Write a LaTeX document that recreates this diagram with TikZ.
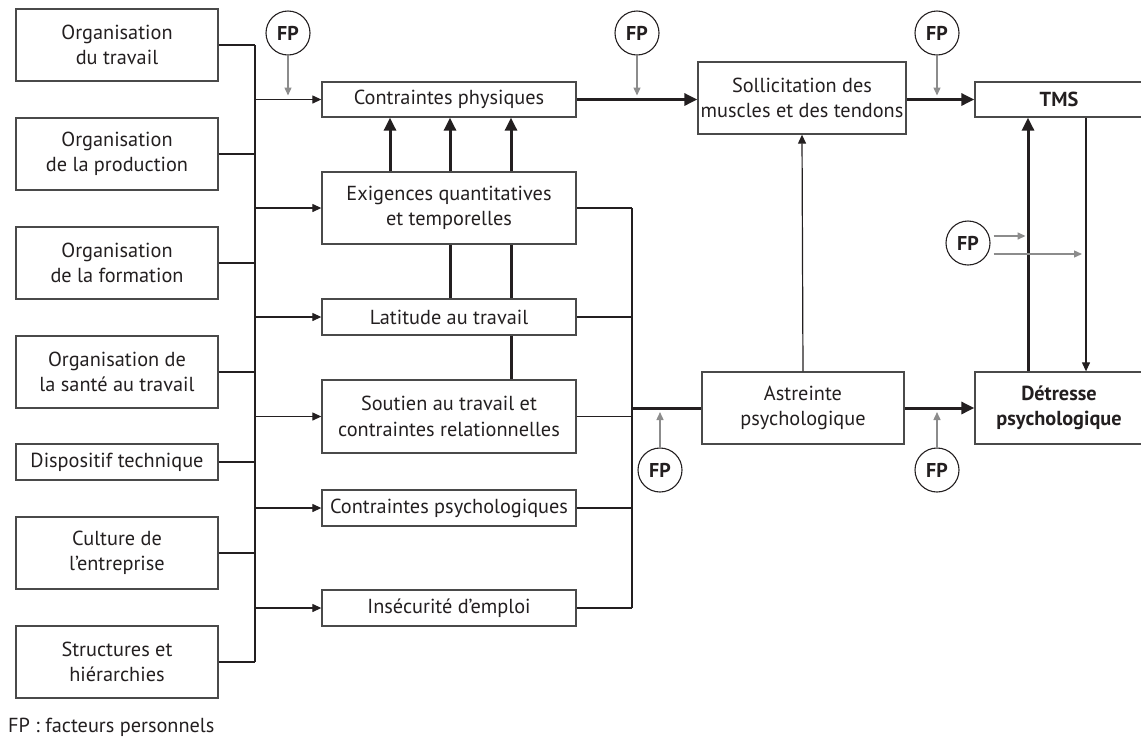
\documentclass[tikz,border=0pt]{standalone}
\usepackage{fontspec}
\setmainfont{PT Sans}
\usetikzlibrary{arrows.meta,calc}
\definecolor{ink}{HTML}{231F20}
\definecolor{boxline}{HTML}{4A4A4A}
\definecolor{fpgray}{HTML}{8C8C8C}
\tikzset{
  box/.style={draw=boxline,line width=1.3pt,rectangle,align=center,text=ink,font=\fontsize{20.3}{25.5}\selectfont,inner sep=0pt},
  fp/.style={draw=ink,line width=1.1pt,circle,minimum size=44pt,inner sep=0pt,text=ink,font=\fontsize{20}{22}\selectfont\bfseries},
  conn/.style={draw=ink,line width=1.2pt},
  arr/.style={conn,-{Triangle[length=9pt,width=8pt]}},
  thick/.style={draw=ink,line width=3pt},
  thickarr/.style={thick,-{Triangle[length=13pt,width=12pt]}},
  fparr/.style={draw=fpgray,line width=1.4pt,-{Triangle[length=8pt,width=7pt]}}
}
\begin{document}
\begin{tikzpicture}[x=1pt,y=-1pt]
\useasboundingbox (0,0) rectangle (1141,740);
% left boxes
\node[box,minimum width=202pt,minimum height=72pt] (o1) at (117,45) {Organisation\\du travail};
\node[box,minimum width=202pt,minimum height=72pt] (o2) at (117,154) {Organisation\\de la production};
\node[box,minimum width=202pt,minimum height=72pt] (o3) at (117,263) {Organisation\\de la formation};
\node[box,minimum width=202pt,minimum height=72pt] (o4) at (117,372) {Organisation de\\la santé au travail};
\node[box,minimum width=202pt,minimum height=36pt] (o5) at (117,462) {Dispositif technique};
\node[box,minimum width=202pt,minimum height=72pt] (o6) at (117,553) {Culture de\\l’entreprise};
\node[box,minimum width=202pt,minimum height=72pt] (o7) at (117,662) {Structures et\\hiérarchies};
% middle boxes
\node[box,minimum width=254pt,minimum height=35pt] (cp) at (449,99.5) {Contraintes physiques};
\node[box,minimum width=254pt,minimum height=72pt] (ex) at (449,208) {Exigences quantitatives\\et temporelles};
\node[box,minimum width=254pt,minimum height=36pt] (la) at (449,317) {Latitude au travail};
\node[box,minimum width=254pt,minimum height=73pt] (so) at (449,416.5) {Soutien au travail et\\contraintes relationnelles};
\node[box,minimum width=254pt,minimum height=36pt] (cps) at (449,508) {Contraintes psychologiques};
\node[box,minimum width=254pt,minimum height=36pt] (ins) at (449,608) {Insécurité d’emploi};
% right boxes
\node[box,minimum width=208pt,minimum height=72pt] (sol) at (802,98) {Sollicitation des\\muscles et des tendons};
\node[box,minimum width=168pt,minimum height=35pt] (tms) at (1059,99.5) {\bfseries TMS};
\node[box,minimum width=202pt,minimum height=72pt] (ast) at (803,408) {Astreinte\\psychologique};
\node[box,minimum width=168pt,minimum height=72pt] (det) at (1059,408) {\bfseries Détresse\\\bfseries psychologique};
% FP circles
\node[fp] (fp1) at (288,33) {FP};
\node[fp] (fp2) at (637,33) {FP};
\node[fp] (fp3) at (937,33) {FP};
\node[fp] (fp4) at (968,243) {FP};
\node[fp] (fp5) at (660,470) {FP};
\node[fp] (fp6) at (937,470) {FP};
% bus coordinates
\coordinate (bl) at (255,0);
\coordinate (br) at (632,0);
\coordinate (c1) at (390,0);
\coordinate (c2) at (450,0);
\coordinate (c3) at (511,0);
\coordinate (c4) at (1028,0);
\coordinate (c5) at (1086,0);
% left bus
\foreach \n in {o1,o2,o3,o4,o5,o6,o7} \draw[conn] (\n.east) -- (\n.east -| bl);
\draw[conn] (o1.east -| bl) -- (o7.east -| bl);
\foreach \n in {cp,ex,la,so,cps,ins} \draw[arr] (\n.west -| bl) -- (\n.west);
% right bus
\foreach \n in {ex,la,so,cps,ins} \draw[conn] (\n.east) -- (\n.east -| br);
\draw[conn] (ex.east -| br) -- (ins.east -| br);
\draw[thick] (ast.west -| br) -- (ast.west);
% vertical links between middle boxes
\foreach \c in {c1,c2,c3} \draw[thickarr] (ex.north -| \c) -- (cp.south -| \c);
\foreach \c in {c2,c3} \draw[thick] (la.north -| \c) -- (ex.south -| \c);
\draw[thick] (so.north -| c3) -- (la.south -| c3);
% main chain
\draw[thickarr] (cp.east) -- (cp.east -| sol.west);
\draw[thickarr] (sol.east |- tms.west) -- (tms.west);
\draw[arr] (ast.north) -- (sol.south);
\draw[thickarr] (ast.east) -- (det.west);
\draw[thickarr] (det.north -| c4) -- (tms.south -| c4);
\draw[arr] (tms.south -| c5) -- (det.north -| c5);
% FP arrows
\draw[fparr] (fp1.south) -- ($(fp1.south |- cp.west)+(0,-4)$);
\draw[fparr] (fp2.south) -- ($(fp2.south |- cp.west)+(0,-4)$);
\draw[fparr] (fp3.south) -- ($(fp3.south |- tms.west)+(0,-4)$);
\draw[fparr] (fp5.north) -- ($(fp5.north |- ast.west)+(0,4)$);
\draw[fparr] (fp6.north) -- ($(fp6.north |- ast.west)+(0,4)$);
\draw[fparr] ($(fp4.east)+(3,-7)$) -- ($(fp4.east)+(35,-7)$);
\draw[fparr] ($(fp4.east)+(3,11)$) -- ($(fp4.east -| c5)+(-4,11)$);
% footnote
\node[anchor=west,text=ink,font=\fontsize{20.3}{22}\selectfont,inner sep=0pt] (note) at (8,727) {FP : facteurs personnels};
\end{tikzpicture}
\end{document}
